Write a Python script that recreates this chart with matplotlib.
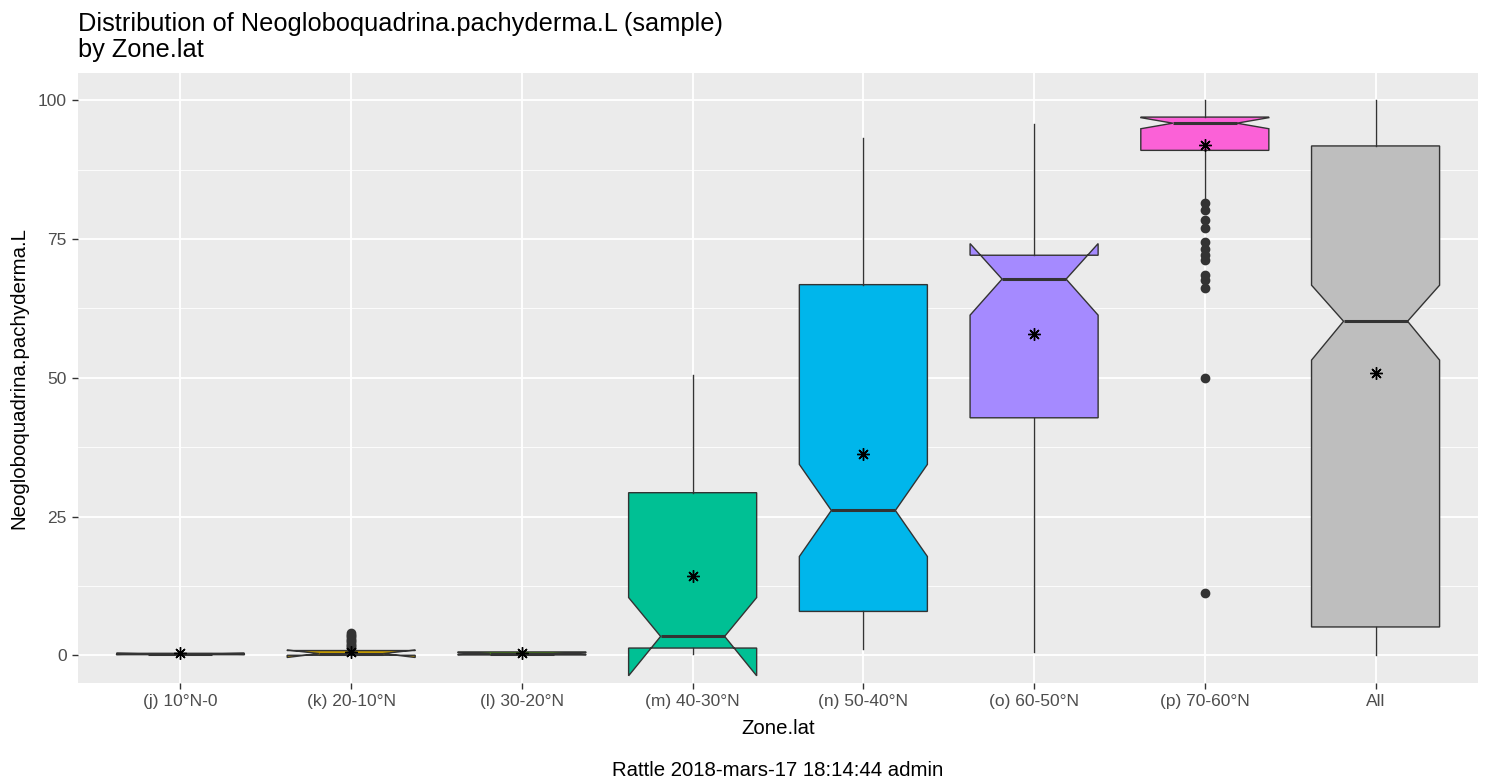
import numpy as np
import matplotlib
matplotlib.use("Agg")
import matplotlib.pyplot as plt

plt.rcParams['font.family'] = ['Liberation Sans', 'DejaVu Sans']

zones = ["(j) 10°N-0", "(k) 20-10°N", "(l) 30-20°N", "(m) 40-30°N",
         "(n) 50-40°N", "(o) 60-50°N", "(p) 70-60°N", "All"]
whislo = [0.0, 0.0, 0.0, 0.2, 1.2, 0.5, 82.0, 0.1]
q1 = [0.1, 0.0, 0.05, 1.3, 7.9, 42.8, 91.0, 5.1]
med = [0.25, 0.3, 0.3, 3.4, 26.1, 67.8, 95.9, 60.2]
q3 = [0.35, 0.85, 0.6, 29.3, 66.8, 72.1, 97.0, 91.8]
whishi = [0.6, 1.1, 1.0, 50.5, 93.3, 95.7, 100.0, 100.0]
cilo = [0.15, -0.4, 0.15, -3.7, 17.8, 61.3, 94.9, 53.2]
cihi = [0.35, 0.95, 0.45, 10.4, 34.4, 74.2, 96.9, 66.7]
means = [0.4, 0.6, 0.35, 14.3, 36.2, 57.9, 91.9, 50.8]
fliers = [[],
          [1.3, 1.6, 1.9, 2.2, 2.5, 2.8, 3.1, 3.4, 3.7, 4.0],
          [], [], [], [],
          [81.6, 80.2, 78.4, 77.0, 74.5, 73.3, 72.1, 71.3, 68.5, 67.7, 66.2, 50.0, 11.3],
          []]
fills = ["#F8766D", "#C49A00", "#53B400", "#00C094", "#00B6EB", "#A58AFF", "#FB61D7", "#BEBEBE"]

stats = []
for i in range(len(zones)):
    stats.append(dict(label=zones[i], whislo=whislo[i], q1=q1[i], med=med[i], q3=q3[i],
                      whishi=whishi[i], cilo=cilo[i], cihi=cihi[i], mean=means[i],
                      fliers=np.array(fliers[i])))

fig = plt.figure(figsize=(14.85, 7.83), dpi=100)
ax = fig.add_axes([78/1485, 1-683/783, 1400/1485, (683-72.7)/783])
ax.set_facecolor("#EBEBEB")

pos = np.arange(1, len(zones) + 1)
ax.set_xlim(0.4, len(zones) + 0.6)
ax.set_ylim(-5, 105)
ax.set_yticks([0, 25, 50, 75, 100])
ax.set_yticks([12.5, 37.5, 62.5, 87.5], minor=True)
ax.grid(which='major', color='white', linewidth=1.3)
ax.grid(which='minor', axis='y', color='white', linewidth=0.6)
ax.set_axisbelow(True)

bp = ax.bxp(stats, positions=pos, widths=0.75, shownotches=True, showcaps=False,
            showmeans=True, patch_artist=True,
            boxprops=dict(edgecolor='#333333', linewidth=1.0),
            whiskerprops=dict(color='#333333', linewidth=1.0),
            medianprops=dict(color='#333333', linewidth=2.2),
            flierprops=dict(marker='o', markerfacecolor='#333333', markeredgecolor='#333333',
                            markersize=6, linestyle='none'),
            meanprops=dict(marker=(8, 2, 0), markeredgecolor='black', markerfacecolor='black',
                           markersize=9, markeredgewidth=1.0))
for patch, c in zip(bp['boxes'], fills):
    patch.set_facecolor(c)

ax.set_xticks(pos)
ax.set_xticklabels(zones)
for s in ax.spines.values():
    s.set_visible(False)
ax.tick_params(axis='both', which='major', colors='#333333', length=4, width=1.0,
               labelsize=12.5, labelcolor='#4D4D4D', pad=4)
ax.tick_params(axis='y', which='minor', length=0)

ax.set_xlabel("Zone.lat", fontsize=14.7, labelpad=7)
ax.set_ylabel("Neogloboquadrina.pachyderma.L", fontsize=14.7, labelpad=7)

fig.text(78/1485, 1-12/783, "Distribution of Neogloboquadrina.pachyderma.L (sample)\nby Zone.lat",
         ha='left', va='top', fontsize=18.3, linespacing=1.08)
fig.text(778/1485, 1-770/783, "Rattle 2018-mars-17 18:14:44 admin",
         ha='center', va='center', fontsize=14.7)

fig.savefig("out.png", dpi=100)
